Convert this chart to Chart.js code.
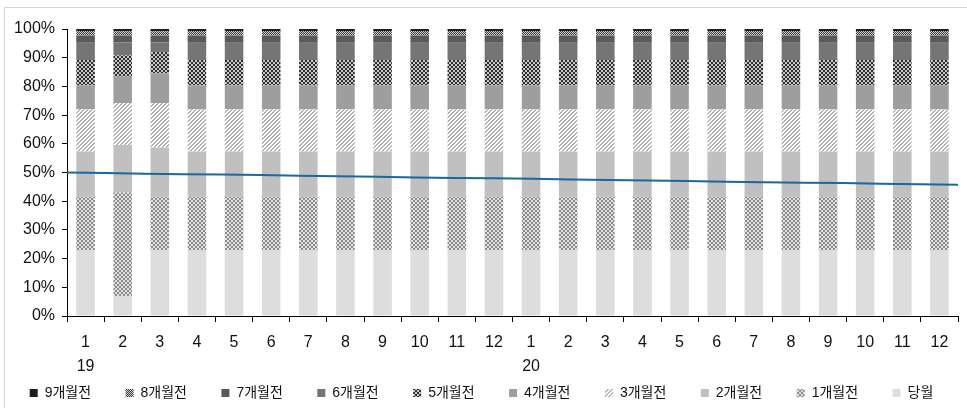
<!DOCTYPE html>
<html>
<head>
<meta charset="utf-8">
<script src="https://cdn.jsdelivr.net/npm/chart.js@4.4.1/dist/chart.umd.min.js"></script>
<style>
  html, body { margin: 0; padding: 0; background: #fff; }
  #wrap {
    position: absolute; left: 4px; top: 7px;
    width: 962px; height: 400px;
    border-top: 1px solid #d6d6d6; border-left: 1px solid #d6d6d6;
  }
</style>
</head>
<body>
<div id="wrap"><canvas id="myChart"></canvas></div>
<script>
const months = ['1','2','3','4','5','6','7','8','9','10','11','12',
                '1','2','3','4','5','6','7','8','9','10','11','12'];
const years = ['19','','','','','','','','','','','','20','','','','','','','','','','',''];

// shares by age of the record (%), bottom of the stack first
const m0 = [22.8, 7.0, 22.8, 22.8, 22.8, 22.8, 22.8, 22.8, 22.8, 22.8, 22.8, 22.8,
            22.8, 22.8, 22.8, 22.8, 22.8, 22.8, 22.8, 22.8, 22.8, 22.8, 22.8, 22.8];
const m1 = [18.7, 36.0, 18.7, 18.7, 18.7, 18.7, 18.7, 18.7, 18.7, 18.7, 18.7, 18.7,
            18.7, 18.7, 18.7, 18.7, 18.7, 18.7, 18.7, 18.7, 18.7, 18.7, 18.7, 18.7];
const m2 = [15.8, 16.6, 17.2, 15.8, 15.8, 15.8, 15.8, 15.8, 15.8, 15.8, 15.8, 15.8,
            15.8, 15.8, 15.8, 15.8, 15.8, 15.8, 15.8, 15.8, 15.8, 15.8, 15.8, 15.8];
const m3 = [14.7, 14.6, 15.5, 14.7, 14.7, 14.7, 14.7, 14.7, 14.7, 14.7, 14.7, 14.7,
            14.7, 14.7, 14.7, 14.7, 14.7, 14.7, 14.7, 14.7, 14.7, 14.7, 14.7, 14.7];
const m4 = [8.4, 9.2, 10.4, 8.4, 8.4, 8.4, 8.4, 8.4, 8.4, 8.4, 8.4, 8.4,
            8.4, 8.4, 8.4, 8.4, 8.4, 8.4, 8.4, 8.4, 8.4, 8.4, 8.4, 8.4];
const m5 = [8.8, 7.4, 7.4, 8.8, 8.8, 8.8, 8.8, 8.8, 8.8, 8.8, 8.8, 8.8,
            8.8, 8.8, 8.8, 8.8, 8.8, 8.8, 8.8, 8.8, 8.8, 8.8, 8.8, 8.8];
const m6 = [6.0, 4.5, 3.3, 6.0, 6.0, 6.0, 6.0, 6.0, 6.0, 6.0, 6.0, 6.0,
            6.0, 6.0, 6.0, 6.0, 6.0, 6.0, 6.0, 6.0, 6.0, 6.0, 6.0, 6.0];
const m7 = [2.5, 2.4, 2.4, 2.5, 2.5, 2.5, 2.5, 2.5, 2.5, 2.5, 2.5, 2.5,
            2.5, 2.5, 2.5, 2.5, 2.5, 2.5, 2.5, 2.5, 2.5, 2.5, 2.5, 2.5];
const m8 = [1.6, 1.5, 1.5, 1.6, 1.6, 1.6, 1.6, 1.6, 1.6, 1.6, 1.6, 1.6,
            1.6, 1.6, 1.6, 1.6, 1.6, 1.6, 1.6, 1.6, 1.6, 1.6, 1.6, 1.6];
const m9 = [0.7, 0.8, 0.8, 0.7, 0.7, 0.7, 0.7, 0.7, 0.7, 0.7, 0.7, 0.7,
            0.7, 0.7, 0.7, 0.7, 0.7, 0.7, 0.7, 0.7, 0.7, 0.7, 0.7, 0.7];

// trend line
const trend = [50.0, 49.8, 49.6, 49.4, 49.3, 49.1, 48.9, 48.7, 48.5, 48.3, 48.1, 48.0,
               47.8, 47.6, 47.4, 47.2, 47.0, 46.8, 46.6, 46.4, 46.3, 46.1, 45.9, 45.7];

const yTicks = [0, 10, 20, 30, 40, 50, 60, 70, 80, 90, 100];

function makePattern(size, draw) {
    const c = document.createElement('canvas');
    c.width = size; c.height = size;
    const g = c.getContext('2d');
    draw(g);
    return g.createPattern(c, 'repeat');
}

function checker(cell, dark, light) {
    return makePattern(cell * 2, g => {
        g.fillStyle = light; g.fillRect(0, 0, cell * 2, cell * 2);
        g.fillStyle = dark;
        g.fillRect(0, 0, cell, cell);
        g.fillRect(cell, cell, cell, cell);
    });
}

const hatch = makePattern(4, g => {
    g.fillStyle = '#ffffff'; g.fillRect(0, 0, 4, 4);
    g.fillStyle = '#b4b4b4';
    for (let i = 0; i < 4; i++) {
        g.fillRect(3 - i, i, 1, 1);
        g.fillRect((3 - i + 1) % 4, i, 1, 1);
    }
});

const xLabels = months.map((m, i) => [m, years[i]]);
const font = "'Liberation Sans', 'Noto Sans CJK KR', sans-serif";

// legend entries get a little trailing room so they sit in even columns
const defaultLabels = Chart.defaults.plugins.legend.labels.generateLabels;
const legendLabels = chart => defaultLabels(chart).map(l =>
    l.text === '당월' ? l : Object.assign(l, { text: l.text + '     ' }));

const ctx = document.getElementById('myChart');

const bar = (label, data, bg) => ({
    type: 'bar', label: label, data: data, backgroundColor: bg,
    borderWidth: 0, order: 1
});

new Chart(ctx, {
    data: {
        labels: xLabels,
        datasets: [
            {
                type: 'line', label: 'trend', data: trend,
                xAxisID: 'x2', borderColor: '#17699f', borderWidth: 2,
                pointRadius: 0, fill: false, order: 0
            },
            bar('당월', m0, '#dcdddc'),
            bar('1개월전', m1, checker(2, '#8a8a8a', '#e2e2e2')),
            bar('2개월전', m2, '#bfc0bf'),
            bar('3개월전', m3, hatch),
            bar('4개월전', m4, '#9d9e9d'),
            bar('5개월전', m5, checker(2, '#2e2e2e', '#c8c8c8')),
            bar('6개월전', m6, '#757575'),
            bar('7개월전', m7, '#5a5a5a'),
            bar('8개월전', m8, checker(1, '#3c3c3c', '#d0d0d0')),
            bar('9개월전', m9, '#1e1e1e')
        ]
    },
    options: {
        responsive: true,
        maintainAspectRatio: false,
        animation: false,
        layout: { padding: { left: 0, right: 9, top: 21, bottom: -2 } },
        datasets: { bar: { grouped: false, categoryPercentage: 1, barPercentage: 0.5 } },
        plugins: {
            tooltip: { enabled: false },
            legend: {
                position: 'bottom',
                reverse: true,
                labels: {
                    filter: item => item.text.trim() !== 'trend',
                    generateLabels: legendLabels,
                    boxWidth: 8, boxHeight: 8,
                    padding: 15,
                    color: '#111',
                    font: { family: font, size: 14 }
                }
            }
        },
        scales: {
            x: {
                stacked: true,
                afterFit: s => { s.height = 55; },
                grid: { offset: true, drawOnChartArea: false, tickLength: 6, color: '#000' },
                border: { color: '#000' },
                ticks: {
                    color: '#111', maxRotation: 0, autoSkip: false, padding: 9,
                    font: { family: font, size: 16, lineHeight: 1.5 }
                }
            },
            x2: {
                type: 'category', labels: months, offset: false, display: false
            },
            y: {
                stacked: true,
                min: 0, max: 100,
                afterFit: s => { s.width = 62; },
                afterBuildTicks: s => { s.ticks = yTicks.map(v => ({ value: v })); },
                grid: { drawOnChartArea: false, tickLength: 5, color: '#000' },
                border: { color: '#000' },
                ticks: {
                    color: '#111', padding: 7, autoSkip: false,
                    font: { family: font, size: 16 },
                    callback: v => v + '%'
                }
            }
        }
    }
});
</script>
</body>
</html>
